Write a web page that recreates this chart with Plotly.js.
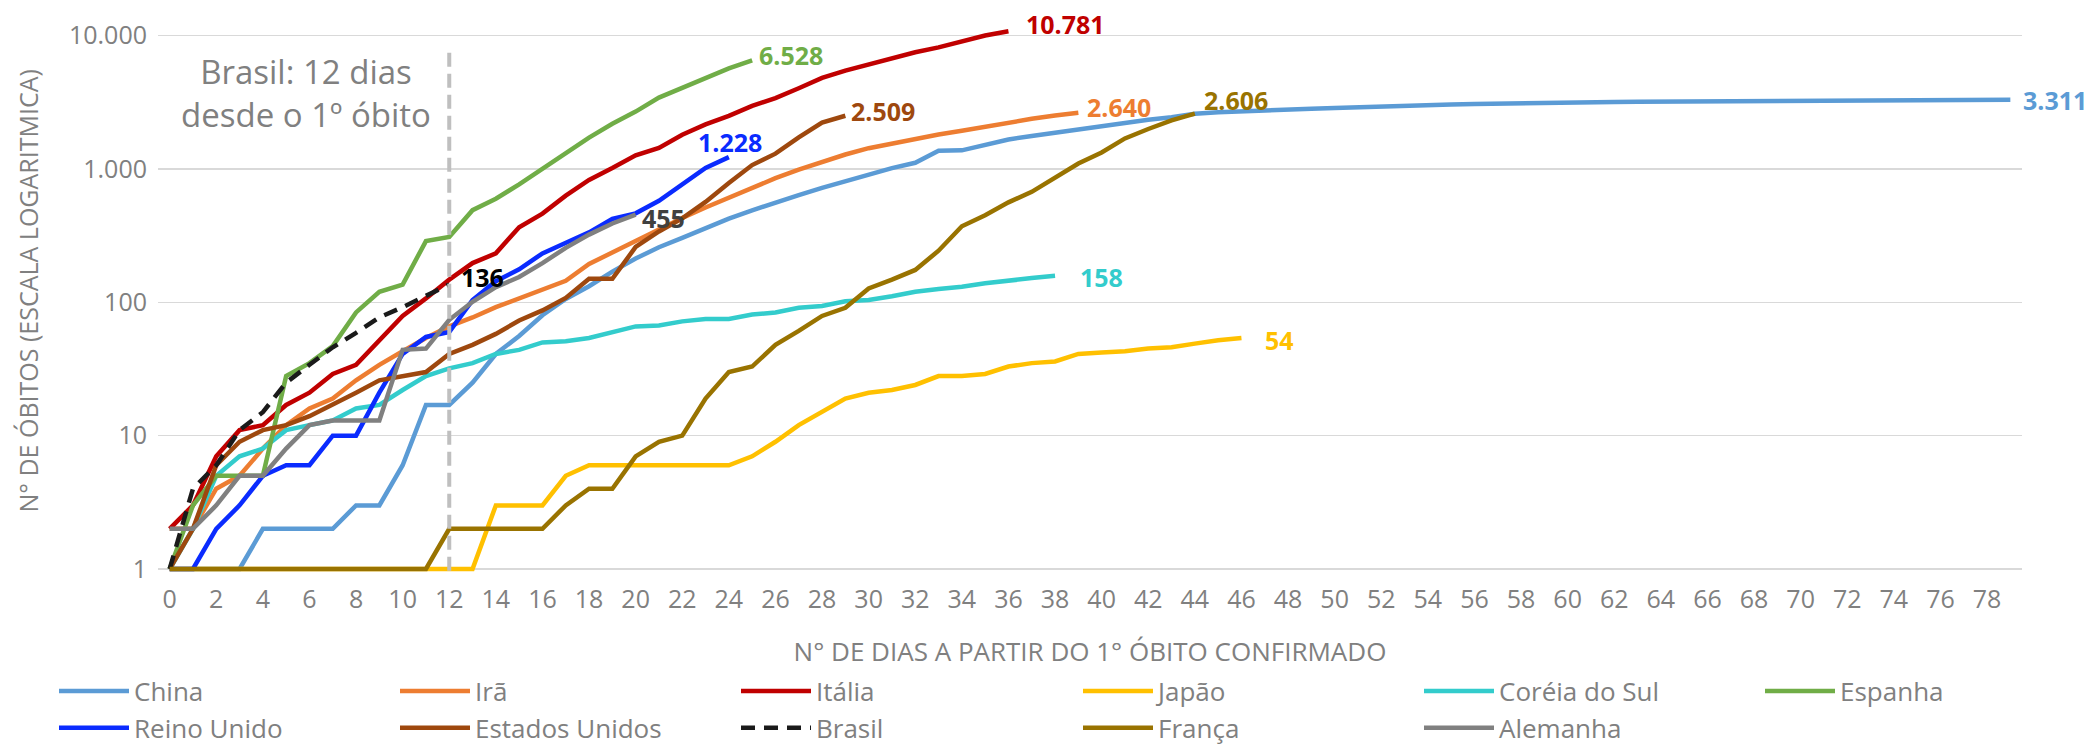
<!DOCTYPE html>
<html>
<head>
<meta charset="utf-8">
<script src="https://cdn.plot.ly/plotly-3.0.1.min.js"></script>
<style>
html,body{margin:0;padding:0;background:#ffffff;}
#chart{width:2093px;height:745px;}
</style>
</head>
<body>
<div id="chart"></div>
<script>
// ---- Data: cumulative deaths by day since 1st confirmed death ----
const china = [1,1,1,1,2,2,2,2,3,3,6,17,17,25,41,56,80,106,132,170,213,259,304,361,425,490,563,636,722,811,908,1016,1113,1369,1380,1523,1665,1770,1868,2004,2118,2236,2345,2442,2592,2663,2715,2744,2788,2835,2870,2912,2943,2981,3012,3042,3070,3097,3119,3136,3158,3169,3176,3189,3199,3213,3226,3237,3245,3248,3255,3261,3270,3277,3281,3287,3292,3295,3300,3311];
const ira = [2,2,4,5,8,12,16,19,26,34,43,54,66,77,92,107,124,145,194,237,291,354,429,514,611,724,853,988,1135,1284,1433,1556,1685,1812,1934,2077,2234,2378,2517,2640];
const italia = [2,3,7,11,12,17,21,29,34,52,79,107,148,197,233,366,463,631,827,1016,1266,1441,1809,2158,2503,2978,3405,4032,4825,5476,6077,6820,7503,8165,9134,10023,10781];
const japao = [1,1,1,1,1,1,1,1,1,1,1,1,1,1,3,3,3,5,6,6,6,6,6,6,6,7,9,12,15,19,21,22,24,28,28,29,33,35,36,41,42,43,45,46,49,52,54];
const coreia = [1,2,5,7,8,11,12,13,16,17,22,28,32,35,41,44,50,51,54,60,66,67,72,75,75,81,84,91,94,102,104,111,120,126,131,139,144,152,158];
const espanha = [1,3,5,5,5,28,35,47,84,120,136,288,309,491,598,767,1002,1326,1720,2182,2696,3434,4089,4858,5690,6528];
const reinoUnido = [1,1,2,3,5,6,6,10,10,21,41,55,60,104,144,177,233,281,335,422,465,578,759,1019,1228];
const estadosUnidos = [1,2,6,9,11,12,14,17,21,26,28,30,41,48,58,73,87,108,150,150,260,340,426,566,784,1070,1303,1726,2229,2509];
const brasil = [1,4,6,11,15,25,34,46,59,77,92,111,136];
const franca = [1,1,1,1,1,1,1,1,1,1,1,1,2,2,2,2,2,3,4,4,7,9,10,19,30,33,48,61,79,91,127,148,175,244,372,450,562,674,860,1100,1331,1696,1995,2314,2606];
const alemanha = [2,2,3,5,5,8,12,13,13,13,44,45,74,101,130,155,197,256,322,390,455];

const names = ['China','Irã','Itália','Japão','Coréia do Sul','Espanha','Reino Unido','Estados Unidos','Brasil','França','Alemanha'];
const values = [china, ira, italia, japao, coreia, espanha, reinoUnido, estadosUnidos, brasil, franca, alemanha];
const yTickVals = [1,10,100,1000,10000];
const yTickText = ['1','10','100','1.000','10.000'];
const brasilDay = 12;

// ---- Styles ----
const FONT = 'Open Sans, Noto Sans, DejaVu Sans, sans-serif';
const GREY = '#808080';
const colors = ['#5B9BD5','#ED7D31','#C00000','#FFC000','#33CCCC','#70AD47','#0A2BFF','#9E480E','#1A1A1A','#997300','#808080'];
const labelColors = ['#5B9BD5','#ED7D31','#C00000','#FFC000','#33CCCC','#70AD47','#0A2BFF','#9E480E','#000000','#997300','#404040'];
const legendOf = ['legend','legend2','legend3','legend4','legend5','legend6','legend','legend2','legend3','legend4','legend5'];
// label offsets [xshift, yshift, xanchor]
const labelPos = [[11,0,'left'],[7,6,'left'],[16,7,'left'],[22,-2,'left'],[23,-1,'left'],[5,5,'left'],[1,15,'center'],[4,5,'left'],[10,8,'left'],[7,14,'left'],[4,-3,'left']];

function fmt(v){ return String(v).replace(/\B(?=(\d{3})+(?!\d))/g,'.'); }

const traces = values.map((arr,i)=>({
  type:'scatter', mode:'lines', name:names[i],
  x: arr.map((_,k)=>k), y: arr,
  line:{color:colors[i], width:4.5, dash: names[i]==='Brasil' ? '14px,9px' : 'solid'},
  legend: legendOf[i], legendgroup: names[i],
  hoverinfo:'skip'
}));

const annotations = values.map((arr,i)=>({
  x: arr.length-1, y: Math.log10(arr[arr.length-1]), xref:'x', yref:'y',
  text:'<b>'+fmt(arr[arr.length-1])+'</b>', showarrow:false,
  xanchor: labelPos[i][2], yanchor:'middle', xshift: labelPos[i][0], yshift: labelPos[i][1],
  font:{family:FONT, size:25, color:labelColors[i]}
}));
annotations.push({
  xref:'paper', yref:'paper', x:0.0794, y:0.883, xanchor:'center', yanchor:'middle',
  text:'Brasil: '+brasilDay+' dias<br>desde o 1º óbito', showarrow:false,
  font:{family:FONT, size:33, color:GREY}
});
annotations.push({
  xref:'paper', yref:'paper', x:-0.0697, y:0.5175, xanchor:'center', yanchor:'middle',
  text:'N° DE ÓBITOS (ESCALA LOGARITMICA)', textangle:-90, showarrow:false,
  font:{family:FONT, size:25, color:GREY}
});

const legendBase = {orientation:'v', xanchor:'left', yanchor:'top', y:-0.174,
  font:{family:FONT, size:26, color:GREY}, bgcolor:'rgba(0,0,0,0)', itemwidth:70,
  tracegroupgap:0, traceorder:'normal'};
const colX = [64,405,746,1088,1429,1770];
function legX(px){ return (px - 10 - 158)/1864; }

const layout = {
  width:2093, height:745,
  margin:{l:158, r:71, t:29, b:172, autoexpand:false},
  paper_bgcolor:'#ffffff', plot_bgcolor:'#ffffff',
  font:{family:FONT, color:GREY},
  showlegend:true,
  xaxis:{range:[-0.5,79.5], tickmode:'linear', tick0:0, dtick:2, showgrid:false, zeroline:false,
    showline:false, ticks:'', ticklabelstandoff:9, automargin:false,
    tickfont:{family:FONT, size:25, color:GREY},
    title:{text:'N° DE DIAS A PARTIR DO 1° ÓBITO CONFIRMADO', font:{family:FONT, size:26, color:GREY}, standoff:28}},
  yaxis:{type:'log', range:[-0.03,4.05], tickmode:'array', tickvals:yTickVals, ticktext:yTickText,
    showgrid:true, gridcolor:'#D9D9D9', gridwidth:1.5, zeroline:false, showline:false, ticks:'',
    automargin:false, ticklabelstandoff:10, tickfont:{family:FONT, size:25, color:GREY}},
  shapes:[{type:'line', xref:'x', yref:'paper', x0:brasilDay, x1:brasilDay, y0:0.004, y1:0.963,
    line:{color:'#BFBFBF', width:4, dash:'14px,7px'}, layer:'above'}],
  annotations: annotations
};
['legend','legend2','legend3','legend4','legend5','legend6'].forEach((k,i)=>{
  layout[k] = Object.assign({}, legendBase, {x: legX(colX[i])});
});

Plotly.newPlot('chart', traces, layout, {displayModeBar:false, staticPlot:true});
</script>
</body>
</html>
